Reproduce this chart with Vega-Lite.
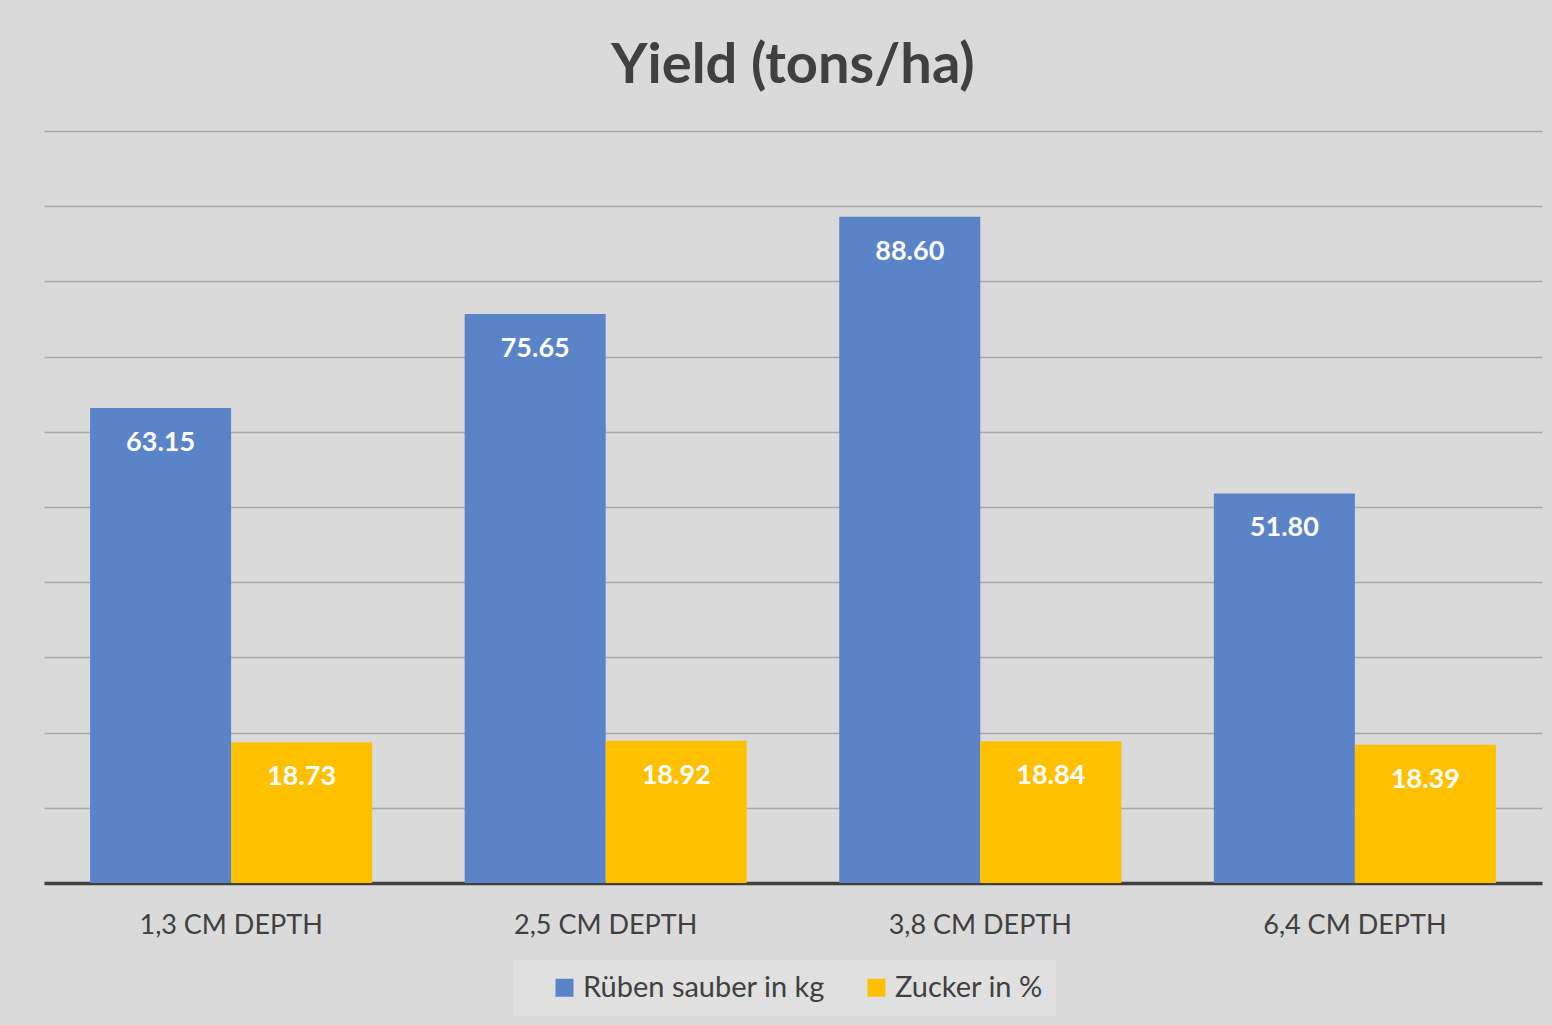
{
  "$schema": "https://vega.github.io/schema/vega-lite/v6.json",
  "width": 1498,
  "height": 752,
  "autosize": {"type": "none"},
  "padding": {"left": 44, "top": 131, "right": 10, "bottom": 142},
  "background": "#dadada",
  "title": {"text": "Yield (tons/ha)", "fontSize": 56, "font": "Lato", "fontWeight": "bold", "color": "#404040", "anchor": "middle", "offset": 36},
  "config": {"view": {"stroke": null}},
  "data": {"values": [
    {"depth": "1,3 CM DEPTH", "series": "Rüben sauber in kg", "value": 63.15},
    {"depth": "1,3 CM DEPTH", "series": "Zucker in %", "value": 18.73},
    {"depth": "2,5 CM DEPTH", "series": "Rüben sauber in kg", "value": 75.65},
    {"depth": "2,5 CM DEPTH", "series": "Zucker in %", "value": 18.92},
    {"depth": "3,8 CM DEPTH", "series": "Rüben sauber in kg", "value": 88.60},
    {"depth": "3,8 CM DEPTH", "series": "Zucker in %", "value": 18.84},
    {"depth": "6,4 CM DEPTH", "series": "Rüben sauber in kg", "value": 51.80},
    {"depth": "6,4 CM DEPTH", "series": "Zucker in %", "value": 18.39}
  ]},
  "encoding": {
    "x": {"field": "depth", "type": "nominal", "sort": null,
      "scale": {"paddingInner": 0.247, "paddingOuter": 0.123},
      "axis": {"title": null, "labelAngle": 0, "domain": true, "domainColor": "#404040", "domainWidth": 3.5, "ticks": false, "grid": false, "labelFont": "Lato", "labelFontSize": 27, "labelColor": "#404040", "labelPadding": 29, "labelLimit": 400}},
    "xOffset": {"field": "series", "type": "nominal", "sort": null, "scale": {"paddingInner": 0}},
    "y": {"field": "value", "type": "quantitative",
      "scale": {"domain": [0, 100], "nice": false},
      "axis": {"title": null, "labels": false, "ticks": false, "domain": false, "grid": true, "gridColor": "#a8a8a8", "gridWidth": 1.5, "values": [10, 20, 30, 40, 50, 60, 70, 80, 90, 100]}}
  },
  "layer": [
    {"mark": {"type": "bar"},
     "encoding": {"color": {"field": "series", "type": "nominal", "sort": null,
        "scale": {"domain": ["Rüben sauber in kg", "Zucker in %"], "range": ["#5a83c8", "#ffc000"]},
        "legend": {"title": null, "orient": "none", "legendX": 469, "legendY": 829, "direction": "horizontal",
          "fillColor": "#e0e0e0", "padding": 13, "symbolType": "square", "symbolSize": 324, "symbolStrokeWidth": 0, "symbolOffset": 24,
          "labelFont": "Lato", "labelFontSize": 29, "labelColor": "#404040", "labelOffset": 4, "columnPadding": 13, "labelLimit": 400}}}},
    {"mark": {"type": "text", "baseline": "middle", "dy": 35, "fontSize": 27, "fontWeight": "bold", "font": "Lato", "color": "#ffffff"},
     "encoding": {"text": {"field": "value", "type": "quantitative", "format": ".2f"}}}
  ]
}
